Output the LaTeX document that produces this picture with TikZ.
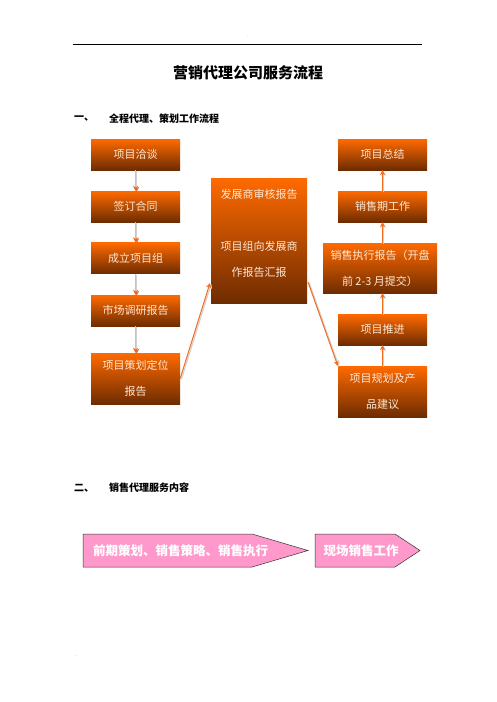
\documentclass[tikz,border=0pt]{standalone}
\usepackage{fontspec}
\setmainfont{Noto Sans CJK SC}
\usetikzlibrary{arrows.meta}
\definecolor{boxtop}{HTML}{FF6A00}
\definecolor{boxbot}{HTML}{6E2C00}
\definecolor{boxtext}{HTML}{FDE8D6}
\definecolor{arrorange}{HTML}{F26B1D}
\definecolor{paleshaft}{HTML}{E2B9A6}
\definecolor{pinkfill}{HTML}{FF99CC}
\tikzset{
  flowbox/.style={rectangle,top color=boxtop,bottom color=boxbot,text=boxtext,
    font=\fontsize{11}{26}\selectfont,align=center,inner sep=0pt,minimum width=89pt},
  flowarr/.style={-{Stealth[length=5pt,width=5pt]},draw=arrorange,line width=1pt,
    preaction={draw=gray!35,line width=1.2pt,transform canvas={xshift=1.2pt,yshift=-0.8pt}}},
  downarr/.style={flowarr,draw=paleshaft,-{Stealth[length=5pt,width=5pt,color=arrorange]}},
  pinkarr/.style={fill=pinkfill,draw=black!80,line width=0.5pt},
  pinktext/.style={text=white,font=\fontsize{12.5}{14}\selectfont\bfseries,inner sep=0pt},
  heading/.style={anchor=west,font=\fontsize{10}{12}\selectfont\bfseries,inner sep=0pt}
}
\begin{document}
\begin{tikzpicture}[x=1pt,y=-1pt]
\useasboundingbox[fill=white] (0,0) rectangle (496,702);
\draw[thin] (73,44) -- (422,44);
\node[font=\tiny,text=gray,inner sep=0pt] (topdot) at (248,37) {.};
\node[font=\tiny,text=gray,inner sep=0pt] (botdot) at (76,656) {.};
\node[font=\fontsize{15}{18}\selectfont\bfseries,inner sep=0pt] (title) at (248,73) {营销代理公司服务流程};
\node[heading] (sec1num) at (74,119) {一、};
\node[heading] (sec1) at (109,119) {全程代理、策划工作流程};
\node[heading] (sec2num) at (74,488) {二、};
\node[heading] (sec2) at (109,488) {销售代理服务内容};

\node[flowbox,minimum height=31pt] (l1) at (135.5,154.5) {项目洽谈};
\node[flowbox,minimum height=31pt] (l2) at (135.5,206.5) {签订合同};
\node[flowbox,minimum height=31pt] (l3) at (135.5,258) {成立项目组};
\node[flowbox,minimum height=31pt] (l4) at (135.5,310.5) {市场调研报告};
\node[flowbox,minimum height=51pt] (l5) at (135.5,378.5) {项目策划定位\\报告};

\node[flowbox,minimum width=96pt,minimum height=125pt] (mid) at (259,240.5) {};
\node[text=boxtext,font=\fontsize{11}{26}\selectfont,align=center,inner sep=0pt] (midtxt) at (259,233) {发展商审核报告\\[26pt]项目组向发展商\\作报告汇报};

\node[flowbox,minimum height=31pt] (r1) at (382.5,154.5) {项目总结};
\node[flowbox,minimum height=31pt] (r2) at (382.5,206.5) {销售期工作};
\node[flowbox,minimum width=114pt,minimum height=50pt] (r3) at (380,268) {销售执行报告（开盘\\前 2-3 月提交）};
\node[flowbox,minimum height=31pt] (r4) at (382.5,329.5) {项目推进};
\node[flowbox,minimum height=51pt] (r5) at (382.5,391.5) {项目规划及产\\品建议};

\draw[downarr] (l1) -- (l2);
\draw[downarr] (l2) -- (l3);
\draw[downarr] (l3) -- (l4);
\draw[downarr] (l4) -- (l5);
\coordinate (midin) at (210,283);
\coordinate (midout) at (308,282);
\draw[flowarr] (l5.east) -- (midin);
\draw[flowarr] (midout) -- (r5.north west);
\draw[flowarr] (r5.north-|r4) -- (r4.south);
\draw[flowarr] (r4.north) -- (r3.south-|r4);
\draw[flowarr] (r3.north-|r2) -- (r2.south);
\draw[flowarr] (r2) -- (r1);

\draw[pinkarr] (83,534) -- (252,534) -- (308,550.5) -- (252,567) -- (83,567) -- cycle;
\draw[pinkarr] (315,534) -- (395,534) -- (420,550.5) -- (395,567) -- (315,567) -- cycle;
\node[pinktext] (pre) at (180.5,551) {前期策划、销售策略、销售执行};
\node[pinktext] (site) at (361,551) {现场销售工作};
\end{tikzpicture}
\end{document}
